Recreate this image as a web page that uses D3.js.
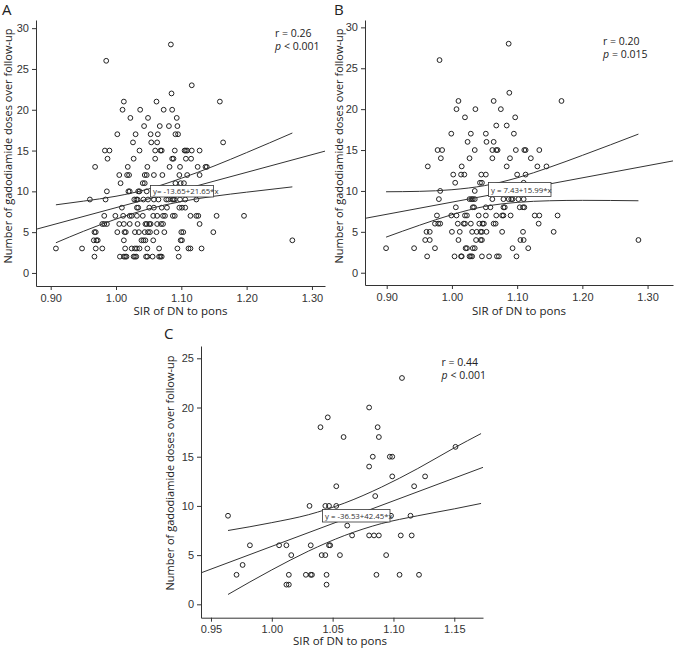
<!DOCTYPE html>
<html>
<head>
<meta charset="utf-8">
<script src="https://cdn.jsdelivr.net/npm/d3@7"></script>
<style>
  body { margin: 0; background: #fff; }
  svg { font-family: "Open Sans", sans-serif; }
  .axis path, .axis line { stroke: #333; }
  .axis text { fill: #333; font-size: 11px; }
</style>
</head>
<body>
<svg id="chart" width="675" height="650"></svg>
<script>
// Data: each row is [doses, list of SIR values]
var rowsA = [
  [28, [1.084]],
  [26, [0.985]],
  [23, [1.116]],
  [22, [1.085]],
  [21, [1.012, 1.062, 1.159]],
  [20, [1.010, 1.037, 1.073, 1.086]],
  [19, [1.022, 1.049, 1.093]],
  [18, [1.043, 1.067, 1.081, 1.094]],
  [17, [1.002, 1.030, 1.053, 1.064, 1.091, 1.095]],
  [16, [1.026, 1.054, 1.063, 1.164]],
  [15, [0.983, 0.990, 1.036, 1.060, 1.068, 1.070, 1.090, 1.105, 1.107, 1.109, 1.116, 1.128]],
  [14, [0.987, 1.027, 1.060, 1.086, 1.088, 1.107, 1.115]],
  [13, [0.968, 1.018, 1.048, 1.082, 1.098, 1.125, 1.137, 1.139]],
  [12, [1.005, 1.017, 1.020, 1.044, 1.047, 1.058, 1.071, 1.097, 1.109, 1.128]],
  [11, [1.007, 1.041, 1.044, 1.091, 1.099, 1.104]],
  [10, [0.986, 1.019, 1.021, 1.034, 1.036, 1.047, 1.075, 1.080, 1.093, 1.105, 1.107, 1.111]],
  [9, [0.960, 0.984, 1.028, 1.031, 1.033, 1.042, 1.049, 1.058, 1.065, 1.077, 1.080, 1.086, 1.088, 1.090, 1.098, 1.106, 1.123]],
  [8, [1.009, 1.032, 1.034, 1.051, 1.058, 1.070, 1.078, 1.097, 1.101, 1.106]],
  [7, [0.982, 0.999, 1.011, 1.021, 1.024, 1.032, 1.041, 1.057, 1.063, 1.072, 1.075, 1.087, 1.090, 1.114, 1.123, 1.126, 1.154, 1.196]],
  [6, [0.979, 0.982, 0.986, 1.005, 1.012, 1.021, 1.033, 1.045, 1.047, 1.051, 1.053, 1.063, 1.069, 1.072, 1.128]],
  [5, [0.967, 0.969, 1.002, 1.013, 1.015, 1.029, 1.035, 1.044, 1.049, 1.052, 1.062, 1.074, 1.100, 1.103, 1.149]],
  [4, [0.966, 0.970, 0.972, 1.012, 1.039, 1.042, 1.045, 1.057, 1.099, 1.101, 1.270]],
  [3, [0.908, 0.948, 0.969, 0.979, 1.014, 1.024, 1.029, 1.032, 1.036, 1.048, 1.066, 1.094, 1.111, 1.114, 1.131]],
  [2, [0.967, 1.006, 1.012, 1.014, 1.016, 1.027, 1.029, 1.031, 1.046, 1.048, 1.056, 1.066, 1.068, 1.070, 1.096]]
];
var rowsB = [
  [28, [1.087]],
  [26, [0.981]],
  [22, [1.088]],
  [21, [1.010, 1.064, 1.168]],
  [20, [1.007, 1.036, 1.075]],
  [19, [1.020, 1.097]],
  [18, [1.068, 1.084]],
  [17, [0.999, 1.029, 1.052, 1.095]],
  [16, [1.024, 1.053, 1.064]],
  [15, [0.978, 0.985, 1.035, 1.062, 1.068, 1.070, 1.098, 1.111, 1.113, 1.134]],
  [14, [0.983, 1.027, 1.062, 1.089, 1.121]],
  [13, [0.963, 1.015, 1.084, 1.131, 1.145]],
  [12, [1.002, 1.014, 1.019, 1.045, 1.052, 1.100, 1.113]],
  [11, [1.005, 1.043, 1.046, 1.110]],
  [10, [0.982, 1.035, 1.091]],
  [9, [0.980, 1.027, 1.030, 1.032, 1.035, 1.062, 1.079, 1.087, 1.091, 1.093, 1.102, 1.110]],
  [8, [1.006, 1.032, 1.034, 1.052, 1.059, 1.079, 1.081, 1.104, 1.109, 1.111]],
  [7, [0.977, 0.999, 1.007, 1.020, 1.023, 1.041, 1.052, 1.068, 1.077, 1.079, 1.090, 1.127, 1.134, 1.162]],
  [6, [0.974, 0.979, 0.982, 1.009, 1.018, 1.020, 1.029, 1.042, 1.047, 1.049, 1.064, 1.067, 1.133]],
  [5, [0.961, 0.966, 1.000, 1.012, 1.031, 1.038, 1.044, 1.046, 1.053, 1.077, 1.109, 1.156]],
  [4, [0.959, 0.966, 1.010, 1.037, 1.044, 1.046, 1.105, 1.110, 1.286]],
  [3, [0.899, 0.942, 0.974, 1.021, 1.023, 1.032, 1.035, 1.093, 1.117]],
  [2, [0.962, 1.004, 1.014, 1.015, 1.027, 1.029, 1.031, 1.046, 1.057, 1.069, 1.072, 1.099]]
];
var rowsC = [
  [23, [1.107]],
  [20, [1.080]],
  [19, [1.046]],
  [18, [1.040, 1.087]],
  [17, [1.059, 1.088]],
  [16, [1.151]],
  [15, [1.083, 1.097, 1.099]],
  [14, [1.080]],
  [13, [1.099, 1.126]],
  [12, [1.053, 1.117]],
  [11, [1.085]],
  [10, [1.031, 1.044, 1.047, 1.053]],
  [9, [0.964, 1.098, 1.114]],
  [8, [1.062]],
  [7, [1.066, 1.080, 1.084, 1.088, 1.106, 1.115]],
  [6, [0.982, 1.006, 1.012, 1.032, 1.047, 1.048]],
  [5, [1.016, 1.041, 1.044, 1.056, 1.094]],
  [4, [0.976]],
  [3, [0.971, 1.014, 1.028, 1.032, 1.033, 1.045, 1.086, 1.105, 1.121]],
  [2, [1.012, 1.014, 1.045]]
];

// fitted line as drawn: [intercept, slope]
var fitA = [-13.65, 21.65];
var fitB = [-6.24, 14.87];
var fitC = [-40.36, 46.25];

// 95% CI curves, read at a few SIR values
var ciXA = [0.908, 0.95, 1.0, 1.05, 1.1, 1.15, 1.2, 1.27];
var ciLoA = [3.7, 5.1, 6.6, 7.85, 8.75, 9.4, 9.9, 10.55];
var ciHiA = [8.35, 8.8, 9.4, 10.3, 11.6, 13.1, 14.75, 17.15];
var ciXB = [0.899, 0.95, 1.0, 1.05, 1.1, 1.15, 1.2, 1.286];
var ciLoB = [4.35, 5.8, 7.1, 8.1, 8.6, 8.8, 8.85, 8.8];
var ciHiB = [9.9, 9.95, 10.15, 10.65, 11.6, 12.9, 14.35, 16.95];
var ciXC = [0.964, 1.0, 1.03, 1.06, 1.09, 1.12, 1.15, 1.172];
var ciLoC = [1.0, 3.5, 5.4, 7.0, 8.2, 9.0, 9.7, 10.25];
var ciHiC = [7.5, 8.3, 9.1, 10.3, 11.9, 13.8, 15.9, 17.35];

var xTicksAB = [0.90, 1.00, 1.10, 1.20, 1.30];
var xTicksC = [0.95, 1.00, 1.05, 1.10, 1.15];
var yTicksAB = [0, 5, 10, 15, 20, 25, 30];
var yTicksC = [0, 5, 10, 15, 20, 25];

var eqA = "y= -13.65+21.65*x";
var eqB = "y = 7.43+15.99*x";
var eqC = "y = -36.53+42.45*x";

var xTitle = "SIR of DN to pons";
var yTitle = "Number of gadodiamide doses over follow-up";

var svg = d3.select("#chart");

function flatten(rows) {
    var pts = [];
    rows.forEach(function(r) {
        r[1].forEach(function(s) { pts.push([s, r[0]]); });
    });
    return pts;
}

function drawPanel(p) {
    var x = d3.scaleLinear().domain(p.xDomain).range([p.left, p.right]);
    var y = d3.scaleLinear().domain(p.yDomain).range([p.bottom, p.top]);
    var g = svg.append("g");

    // axes
    g.append("g")
        .attr("class", "axis")
        .attr("transform", "translate(0," + p.bottom + ")")
        .call(d3.axisBottom(x).tickValues(p.xTicks).tickFormat(d3.format(".2f"))
            .tickSizeInner(4).tickSizeOuter(0).tickPadding(4));
    g.append("g")
        .attr("class", "axis")
        .attr("transform", "translate(" + p.left + ",0)")
        .call(d3.axisLeft(y).tickValues(p.yTicks).tickSizeInner(4).tickSizeOuter(0).tickPadding(3));

    // points
    g.append("g").selectAll("circle")
        .data(flatten(p.rows))
        .enter().append("circle")
            .attr("cx", function(d) { return x(d[0]); })
            .attr("cy", function(d) { return y(d[1]); })
            .attr("r", 2.4)
            .attr("fill", "none")
            .attr("stroke", "#222")
            .attr("stroke-width", 1);

    // fit line across the axis
    var xd = x.domain();
    var line = d3.line().x(function(d) { return x(d[0]); }).y(function(d) { return y(d[1]); });
    g.append("path")
        .attr("d", line(xd.map(function(v) { return [v, p.fit[0] + p.fit[1] * v]; })))
        .attr("fill", "none").attr("stroke", "#333").attr("stroke-width", 1);

    // CI curves
    var curve = d3.line().curve(d3.curveMonotoneX)
        .x(function(d) { return x(d[0]); }).y(function(d) { return y(d[1]); });
    [p.ciLo, p.ciHi].forEach(function(arr) {
        g.append("path")
            .attr("d", curve(p.ciX.map(function(v, i) { return [v, arr[i]]; })))
            .attr("fill", "none").attr("stroke", "#333").attr("stroke-width", 1);
    });

    // equation box
    var eq = g.append("g").attr("transform", "translate(" + p.eqPos[0] + "," + p.eqPos[1] + ")");
    eq.append("rect")
        .attr("width", p.eqSize[0]).attr("height", p.eqSize[1])
        .attr("fill", "#fff").attr("stroke", "#333").attr("stroke-width", 0.8);
    eq.append("text")
        .attr("x", 2.5).attr("y", p.eqSize[1] / 2 + 3)
        .attr("font-size", "7.8px").attr("fill", "#333")
        .text(p.eq);

    // r and p
    g.append("text")
        .attr("x", p.stat[0]).attr("y", p.stat[1])
        .attr("font-size", "10.5px").attr("fill", "#222")
        .text(p.r);
    var pItal = g.append("text")
        .attr("x", p.stat[0]).attr("y", p.stat[1] + 12.5)
        .attr("font-size", "10.5px").attr("font-style", "italic").attr("fill", "#222")
        .text("p");
    var pw = pItal.node().getComputedTextLength();
    g.append("text")
        .attr("x", p.stat[0] + pw + 3).attr("y", p.stat[1] + 12.5)
        .attr("font-size", "10.5px").attr("fill", "#222")
        .text(p.p);

    // titles
    g.append("text")
        .attr("x", (p.left + p.right) / 2 + p.xTitleDx).attr("y", p.xTitleY)
        .attr("text-anchor", "middle").attr("font-size", "11.5px").attr("fill", "#222")
        .text(xTitle);
    g.append("text")
        .attr("transform", "translate(" + p.yTitlePos[0] + "," + p.yTitlePos[1] + ") rotate(-90)")
        .attr("text-anchor", "middle").attr("font-size", "11px").attr("fill", "#222")
        .text(yTitle);
    g.append("text")
        .attr("x", p.letter[0]).attr("y", p.letter[1])
        .attr("font-size", "15px").attr("fill", "#222")
        .text(p.name);
}

drawPanel({
    name: "A", letter: [2, 15],
    rows: rowsA, fit: fitA, ciX: ciXA, ciLo: ciLoA, ciHi: ciHiA,
    xDomain: [0.8775, 1.32], yDomain: [-1.6, 31],
    left: 36, right: 325, top: 20, bottom: 286,
    xTicks: xTicksAB, yTicks: yTicksAB,
    eq: eqA, eqPos: [150.5, 185.5], eqSize: [63, 11.5],
    r: "r = 0.26", p: "< 0.001", stat: [275, 37],
    xTitleDx: 0, xTitleY: 315, yTitlePos: [12, 146]
});

drawPanel({
    name: "B", letter: [334, 15],
    rows: rowsB, fit: fitB, ciX: ciXB, ciLo: ciLoB, ciHi: ciHiB,
    xDomain: [0.8667, 1.339], yDomain: [-1.5, 30.9],
    left: 365, right: 673, top: 20, bottom: 285,
    xTicks: xTicksAB, yTicks: yTicksAB,
    eq: eqB, eqPos: [488.5, 182.5], eqSize: [62.5, 14],
    r: "r = 0.20", p: "= 0.015", stat: [603, 45],
    xTitleDx: 0, xTitleY: 315, yTitlePos: [343, 146]
});

drawPanel({
    name: "C", letter: [164, 339],
    rows: rowsC, fit: fitC, ciX: ciXC, ciLo: ciLoC, ciHi: ciHiC,
    xDomain: [0.9418, 1.1736], yDomain: [-1.36, 26.25],
    left: 201, right: 483, top: 346, bottom: 617.7,
    xTicks: xTicksC, yTicks: yTicksC,
    eq: eqC, eqPos: [322.5, 509.5], eqSize: [67.5, 12.5],
    r: "r = 0.44", p: "< 0.001", stat: [441.5, 366],
    xTitleDx: -2, xTitleY: 645, yTitlePos: [174, 473]
});
</script>
</body>
</html>
